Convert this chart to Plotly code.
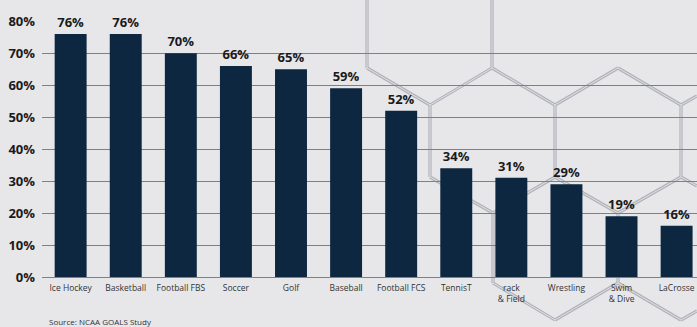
import plotly.graph_objects as go

categories = ["Ice Hockey", "Basketball", "Football FBS", "Soccer", "Golf", "Baseball",
              "Football FCS", "TennisT", "rack<br>& Field", "Wrestling", "Swim<br>& Dive", "LaCrosse"]
values = [76, 76, 70, 66, 65, 59, 52, 34, 31, 29, 19, 16]
value_labels = [f"{v}%" for v in values]
y_ticks = [0, 10, 20, 30, 40, 50, 60, 70, 80]
y_tick_labels = [f"{t}%" for t in y_ticks]

W, H = 697, 327
ML, MR, MT, MB = 42, 0, 21, 50
PW, PH = W - ML - MR, H - MT - MB

BG = "#e7e7ea"
BAR = "#0d2741"
GRID = "#7b808c"

fig = go.Figure()
fig.add_trace(go.Bar(
    x=list(range(len(categories))), y=values,
    marker=dict(color=BAR, line=dict(width=0)),
    text=value_labels, textposition="outside",
    textfont=dict(family="Open Sans", size=13, color="#1a1a1a", weight="bold"),
    cliponaxis=False, showlegend=False, hoverinfo="skip",
))

# decorative hexagon pattern (pixel coordinates)
segs = [
    ((367, 0), (367, 68)), ((492, 0), (492, 68)),
    ((367, 68), (430, 105)), ((492, 68), (430, 105)), ((492, 68), (555, 105)),
    ((555, 105), (618, 68)), ((618, 68), (681, 105)), ((681, 105), (697, 96)),
    ((430, 105), (430, 177)), ((555, 105), (555, 177)), ((681, 105), (681, 177)),
    ((430, 177), (493, 213)), ((555, 177), (493, 213)), ((555, 177), (618, 213)),
    ((681, 177), (618, 213)), ((681, 177), (697, 186)),
    ((493, 213), (493, 283)), ((618, 213), (618, 283)),
    ((493, 283), (555, 320)), ((555, 320), (618, 283)), ((618, 283), (681, 320)),
    ((681, 320), (697, 311)),
]
def px2paper(p):
    return (p[0] - ML) / PW, (H - MB - p[1]) / PH
shapes = []
for color, w in (("#b1b3ba", 3.2), ("#e0e1e4", 1.0)):
    for a, b in segs:
        x0, y0 = px2paper(a)
        x1, y1 = px2paper(b)
        shapes.append(dict(type="line", xref="paper", yref="paper", x0=x0, y0=y0, x1=x1, y1=y1,
                           line=dict(color=color, width=w), layer="below"))

fig.update_layout(
    width=W, height=H,
    margin=dict(l=ML, r=MR, t=MT, b=MB),
    paper_bgcolor=BG, plot_bgcolor="rgba(0,0,0,0)",
    bargap=0.42,
    shapes=shapes,
    xaxis=dict(
        tickmode="array", tickvals=list(range(len(categories))), ticktext=categories,
        range=[-0.52, 11.37], showgrid=False, zeroline=False, showline=False, ticks="",
        tickfont=dict(family="Open Sans", size=8.5, color="#333333"),
        ticklabelstandoff=4,
    ),
    yaxis=dict(
        range=[0, 80.05], tickmode="array", tickvals=y_ticks, ticktext=y_tick_labels,
        showgrid=True, gridcolor=GRID, gridwidth=1.3, zeroline=True, zerolinecolor=GRID,
        zerolinewidth=1.3, showline=False, ticks="",
        tickfont=dict(family="Open Sans", size=13, color="#1a1a1a", weight="bold"),
        ticklabelstandoff=6,
    ),
    annotations=[dict(text="Source: NCAA GOALS Study", xref="paper", yref="paper",
                      x=(47 - ML) / PW, y=(H - MB - 321) / PH, xanchor="left", yanchor="middle",
                      showarrow=False, font=dict(family="Open Sans", size=8, color="#333333"))],
)
fig.write_html("out.html", config={"displayModeBar": False},
               post_script="document.body.style.margin='0';document.body.style.padding='0';"
                           "document.body.style.overflow='hidden';")
